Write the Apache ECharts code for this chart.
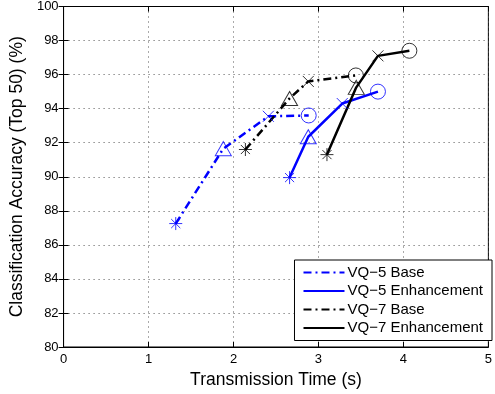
<!DOCTYPE html>
<html>
<head>
<meta charset="utf-8">
<script src="https://cdn.jsdelivr.net/npm/echarts@6/dist/echarts.min.js"></script>
<style>
html,body{margin:0;padding:0;background:#fff;}
#main{width:495px;height:394px;}
</style>
</head>
<body>
<div id="main"></div>
<script>
// data
var seriesNames = ['VQ\u22125 Base', 'VQ\u22125 Enhancement', 'VQ\u22127 Base', 'VQ\u22127 Enhancement'];
var vq5BaseX = [1.32, 1.88, 2.41, 2.885];
var vq5BaseY = [87.25, 91.65, 93.55, 93.6];
var vq5EnhX = [2.66, 2.88, 3.28, 3.70];
var vq5EnhY = [89.95, 92.35, 94.3, 95.0];
var vq7BaseX = [2.14, 2.66, 2.88, 3.44];
var vq7BaseY = [91.6, 94.6, 95.6, 95.95];
var vq7EnhX = [3.10, 3.445, 3.70, 4.07];
var vq7EnhY = [91.3, 95.25, 97.1, 97.4];
var xTicks = [0, 1, 2, 3, 4, 5];
var yTicks = [80, 82, 84, 86, 88, 90, 92, 94, 96, 98, 100];

var starPath = 'path://M0,5L10,5M5,0L5,10M1.5,1.5L8.5,8.5M8.5,1.5L1.5,8.5';
var crossPath = 'path://M0,0L10,10M10,0L0,10';
var markers = [
	{symbol: starPath, size: 13},
	{symbol: 'triangle', size: [16, 14]},
	{symbol: crossPath, size: 11},
	{symbol: 'circle', size: 15}
];
var dashDot = [8, 4, 2, 4];
var fnt = 'Liberation Sans, Arial, Helvetica, sans-serif';

function pairs(xs, ys){
	var out = [];
	for (var i = 0; i < xs.length; i++) out.push([xs[i], ys[i]]);
	return out;
}
function markerData(xs, ys){
	var out = [];
	for (var i = 0; i < xs.length; i++){
		out.push({value: [xs[i], ys[i]], symbol: markers[i].symbol, symbolSize: markers[i].size});
	}
	return out;
}

var defs = [
	{name: seriesNames[0], xs: vq5BaseX, ys: vq5BaseY, color: '#0000ff', type: dashDot},
	{name: seriesNames[1], xs: vq5EnhX, ys: vq5EnhY, color: '#0000ff', type: 'solid'},
	{name: seriesNames[2], xs: vq7BaseX, ys: vq7BaseY, color: '#000000', type: dashDot},
	{name: seriesNames[3], xs: vq7EnhX, ys: vq7EnhY, color: '#000000', type: 'solid'}
];

var series = [];
defs.forEach(function(d){
	series.push({
		name: d.name,
		type: 'line',
		data: pairs(d.xs, d.ys),
		symbol: 'none',
		color: d.color,
		lineStyle: {color: d.color, width: 2.5, type: d.type},
		animation: false,
		z: 2
	});
	series.push({
		name: d.name + ' markers',
		type: 'scatter',
		data: markerData(d.xs, d.ys),
		itemStyle: {color: 'rgba(0,0,0,0)', borderColor: d.color, borderWidth: 1},
		emphasis: {disabled: true},
		animation: false,
		z: 3
	});
});

var myChart = echarts.init(document.getElementById('main'));
var option = {
	backgroundColor: '#fff',
	animation: false,
	grid: {
		left: 62, right: 2, top: 6, bottom: 47,
		show: true, borderColor: '#000', borderWidth: 1
	},
	legend: {
		data: seriesNames,
		orient: 'vertical',
		right: 3,
		top: 260,
		itemWidth: 41,
		itemHeight: 16,
		itemGap: 3.5,
		padding: [5, 9, 5, 8],
		backgroundColor: '#fff',
		borderColor: '#000',
		borderWidth: 1,
		itemStyle: {opacity: 0},
		textStyle: {fontFamily: fnt, fontSize: 15, color: '#000', padding: [0, 0, 0, -2]}
	},
	xAxis: [{
		type: 'value',
		min: 0, max: 5, interval: 1,
		name: 'Transmission Time (s)',
		nameLocation: 'middle',
		nameGap: 22,
		nameTextStyle: {fontFamily: fnt, fontSize: 17.5, color: '#000'},
		axisLine: {lineStyle: {color: '#000'}},
		axisTick: {inside: true, length: 5, lineStyle: {color: '#000'}},
		axisLabel: {fontFamily: fnt, fontSize: 13, color: '#000', margin: 6,
			formatter: function(v){ return xTicks.indexOf(v) >= 0 ? String(v) : ''; }},
		splitLine: {show: true, lineStyle: {color: '#555', type: [1, 4]}}
	}, {
		type: 'value',
		position: 'top',
		min: 0, max: 5, interval: 1,
		axisLine: {lineStyle: {color: '#000'}},
		axisTick: {inside: true, length: 5, lineStyle: {color: '#000'}},
		axisLabel: {show: false},
		splitLine: {show: false}
	}],
	yAxis: [{
		type: 'value',
		min: 80, max: 100, interval: 2,
		name: 'Classification Accuracy (Top 50) (%)',
		nameLocation: 'middle',
		nameGap: 37,
		nameTextStyle: {fontFamily: fnt, fontSize: 17.5, color: '#000'},
		axisLine: {lineStyle: {color: '#000'}},
		axisTick: {inside: true, length: 5, lineStyle: {color: '#000'}},
		axisLabel: {fontFamily: fnt, fontSize: 13, color: '#000', margin: 5,
			formatter: function(v){ return yTicks.indexOf(v) >= 0 ? String(v) : ''; }},
		splitLine: {show: true, lineStyle: {color: '#555', type: [1, 4]}}
	}, {
		type: 'value',
		position: 'right',
		min: 80, max: 100, interval: 2,
		axisLine: {lineStyle: {color: '#000'}},
		axisTick: {inside: true, length: 5, lineStyle: {color: '#000'}},
		axisLabel: {show: false},
		splitLine: {show: false}
	}],
	series: series
};
myChart.setOption(option);
</script>
</body>
</html>
